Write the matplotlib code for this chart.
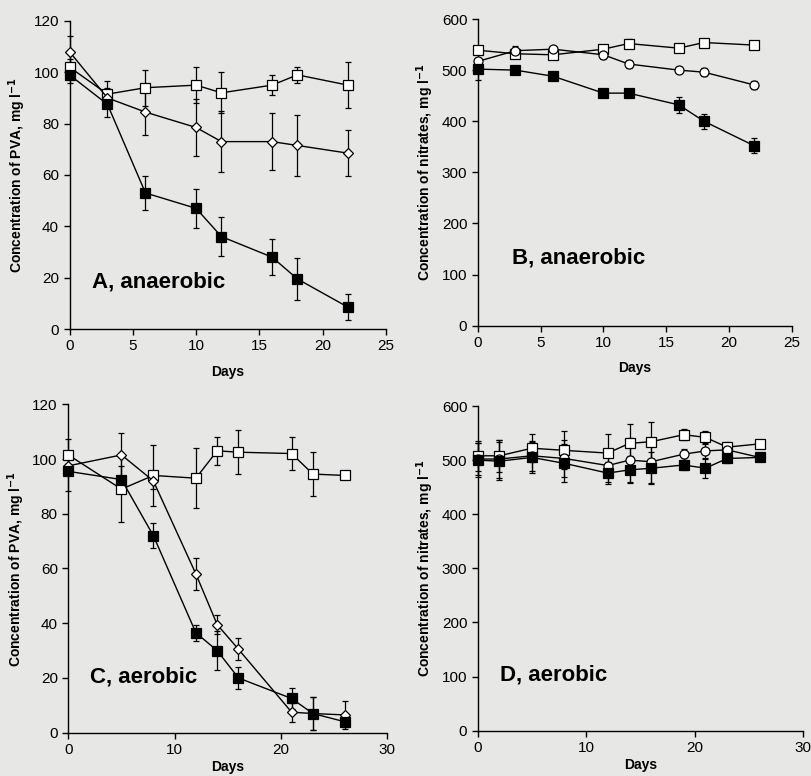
import matplotlib
matplotlib.use("Agg")
import matplotlib.pyplot as plt
import numpy as np

plt.rcParams['font.family'] = ['Liberation Sans', 'DejaVu Sans']

# ---------------- Panel A: PVA, anaerobic ----------------
a_days_sq = [0, 3, 6, 10, 12, 16, 18, 22]
a_open_sq = [102, 91.5, 94, 95, 92, 95, 99, 95]
a_open_sq_err = [3, 5, 7, 7, 8, 4, 3, 9]
a_days_di = [0, 3, 6, 10, 12, 16, 18, 22]
a_diamond = [108, 90, 84.5, 78.5, 73, 73, 71.5, 68.5]
a_diamond_err = [6, 4, 9, 11, 12, 11, 12, 9]
a_days_fs = [0, 3, 6, 10, 12, 16, 18, 22]
a_filled = [99, 87.5, 53, 47, 36, 28, 19.5, 8.5]
a_filled_err = [3, 5, 6.5, 7.5, 7.5, 7, 8, 5]

# ---------------- Panel B: nitrates, anaerobic ----------------
b_days = [0, 3, 6, 10, 12, 16, 18, 22]
b_open_sq = [539, 532, 530, 541, 552, 543, 554, 549]
b_open_sq_err = [8, 6, 5, 6, 8, 5, 4, 6]
b_circle = [517, 538, 541, 530, 512, 500, 496, 471]
b_circle_err = [6, 10, 5, 8, 8, 6, 8, 8]
b_filled = [502, 500, 488, 455, 455, 432, 400, 352]
b_filled_err = [22, 6, 5, 5, 5, 15, 15, 15]

# ---------------- Panel C: PVA, aerobic ----------------
c_days = [0, 5, 8, 12, 14, 16, 21, 23, 26]
c_open_sq = [101.5, 89, 94, 93, 103, 102.5, 102, 94.5, 94]
c_open_sq_err = [6, 12, 11, 11, 5, 8, 6, 8, 0]
c_diamond = [97.5, 101.5, 92, 58, 39.5, 30.5, 7.5, 7, 6.5]
c_diamond_err = [3, 8, 3, 6, 3.5, 4, 3.5, 6, 5]
c_filled = [95.5, 92.5, 72, 36.5, 30, 20, 12.5, 7, 4]
c_filled_err = [7, 5, 4.5, 3, 7, 4, 4, 6, 2]

# ---------------- Panel D: nitrates, aerobic ----------------
d_days = [0, 2, 5, 8, 12, 14, 16, 19, 21, 23, 26]
d_open_sq = [508, 508, 522, 518, 513, 531, 534, 547, 542, 524, 530]
d_open_sq_err = [28, 30, 26, 35, 36, 35, 36, 10, 12, 10, 4]
d_circle = [502, 502, 508, 503, 490, 500, 497, 511, 517, 519, 505]
d_circle_err = [30, 35, 28, 35, 30, 40, 40, 10, 15, 10, 5]
d_filled = [500, 498, 505, 494, 476, 482, 485, 491, 485, 503, 505]
d_filled_err = [32, 35, 28, 35, 20, 25, 30, 10, 18, 8, 4]

BG = '#e7e7e5'
fig = plt.figure(figsize=(8.12, 7.76), dpi=100)
fig.patch.set_facecolor(BG)

ms = 6.5
common = dict(color='black', lw=1.0, elinewidth=0.9, capsize=2.0, capthick=0.9,
              markeredgecolor='black', markeredgewidth=0.9, ms=ms, zorder=3)


def series(ax, x, y, err, marker, mfc, size=ms):
    cont = ax.errorbar(x, y, yerr=err, marker=marker, mfc=mfc, **{**common, 'ms': size})
    for art in cont.get_children():
        art.set_clip_on(False)


def style(ax, xmax, xstep, ymax, ystep, ylabel, label, lx, ly, xpad):
    ax.set_facecolor(BG)
    for s in ('top', 'right'):
        ax.spines[s].set_visible(False)
    for s in ('left', 'bottom'):
        ax.spines[s].set_linewidth(1.0)
    ax.set_xlim(0, xmax)
    ax.set_ylim(0, ymax)
    ax.set_xticks(np.arange(0, xmax + 0.1, xstep))
    ax.set_yticks(np.arange(0, ymax + 0.1, ystep))
    ax.tick_params(direction='out', length=4, width=1.0, labelsize=11)
    ax.set_xlabel('Days', fontsize=10, fontweight='bold', labelpad=xpad)
    ax.set_ylabel(ylabel, fontsize=10, fontweight='bold', labelpad=4)
    ax.text(lx, ly, label, transform=ax.transAxes, fontsize=16, fontweight='bold')


pva_label = 'Concentration of PVA, mg l$^{\\mathbf{-1}}$'
nit_label = 'Concentration of nitrates, mg l$^{\\mathbf{-1}}$'

axA = fig.add_axes([0.0856, 0.576, 0.3898, 0.397])
series(axA, a_days_sq, a_open_sq, a_open_sq_err, 's', 'white')
series(axA, a_days_di, a_diamond, a_diamond_err, 'D', 'white', 5.5)
series(axA, a_days_fs, a_filled, a_filled_err, 's', 'black')
style(axA, 25, 5, 120, 20, pva_label, 'A, anaerobic', 0.071, 0.136, 8)

axB = fig.add_axes([0.5883, 0.5803, 0.387, 0.3952])
series(axB, b_days, b_open_sq, b_open_sq_err, 's', 'white')
series(axB, b_days, b_circle, b_circle_err, 'o', 'white')
series(axB, b_days, b_filled, b_filled_err, 's', 'black')
style(axB, 25, 5, 600, 100, nit_label, 'B, anaerobic', 0.109, 0.204, 8)

axC = fig.add_axes([0.0841, 0.0558, 0.3929, 0.4232])
series(axC, c_days, c_open_sq, c_open_sq_err, 's', 'white')
series(axC, c_days, c_diamond, c_diamond_err, 'D', 'white', 5.5)
series(axC, c_days, c_filled, c_filled_err, 's', 'black')
style(axC, 30, 10, 120, 20, pva_label, 'C, aerobic', 0.068, 0.154, 2)

axD = fig.add_axes([0.5883, 0.0584, 0.4006, 0.4184])
series(axD, d_days, d_open_sq, d_open_sq_err, 's', 'white')
series(axD, d_days, d_circle, d_circle_err, 'o', 'white')
series(axD, d_days, d_filled, d_filled_err, 's', 'black')
style(axD, 30, 10, 600, 100, nit_label, 'D, aerobic', 0.069, 0.156, 2)

fig.savefig('out.png', dpi=100, facecolor=BG)
